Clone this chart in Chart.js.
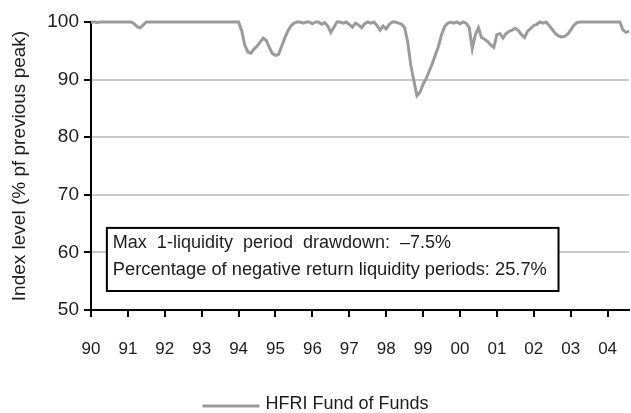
<!DOCTYPE html>
<html>
<head>
<meta charset="utf-8">
<script src="https://cdn.jsdelivr.net/npm/chart.js@4.4.1/dist/chart.umd.min.js"></script>
<style>
  html, body { margin: 0; padding: 0; background: #fff; }
  #wrap { width: 631px; height: 413px; }
</style>
</head>
<body>
<div id="wrap"><canvas id="myChart" width="631" height="413"></canvas></div>
<script>
// Monthly drawdown of the index, % of previous peak, Jan 1990 onwards
const startYear = 1990;
const seriesLabel = "HFRI Fund of Funds";
const drawdown = [
    100, 100, 99.9, 100, 100, 100, 100, 100, 100, 100, 100, 100,          // 1990
    100, 100, 99.7, 99.2, 99.0, 99.5, 100, 100, 100, 100, 100, 100,       // 1991
    100, 100, 100, 100, 100, 100, 100, 100, 100, 100, 100, 100,           // 1992
    100, 100, 100, 100, 100, 100, 100, 100, 100, 100, 100, 100,           // 1993
    100, 98.5, 96.0, 94.8, 94.6, 95.3, 95.8, 96.5, 97.2, 96.8, 95.6, 94.5, // 1994
    94.2, 94.4, 95.8, 97.2, 98.4, 99.3, 99.8, 100, 100, 99.8, 100, 100,   // 1995
    99.7, 100, 100, 99.6, 99.9, 99.3, 98.2, 99.1, 100, 100, 99.8, 100,    // 1996
    99.6, 99.1, 99.8, 99.5, 99.0, 99.7, 100, 99.8, 100, 99.4, 98.6, 99.3, // 1997
    98.8, 99.6, 100, 100, 99.8, 99.6, 99.0, 96.5, 92.5, 89.8, 87.2, 87.8, // 1998
    89.2, 90.2, 91.5, 92.8, 94.3, 95.8, 97.8, 99.2, 99.8, 100, 99.8, 100, // 1999
    99.7, 100, 99.8, 99.0, 95.4, 97.8, 99.0, 97.3, 97.0, 96.6, 96.0, 95.6, // 2000
    97.8, 98.0, 97.2, 98.0, 98.4, 98.6, 98.9, 98.5, 97.8, 97.3, 98.4, 98.9, // 2001
    99.4, 99.6, 100, 99.8, 100, 99.4, 98.7, 98.0, 97.6, 97.4, 97.5, 97.9, // 2002
    98.6, 99.4, 99.9, 100, 100, 100, 100, 100, 100, 100, 100, 100,        // 2003
    100, 100, 100, 100, 100, 98.6, 98.2, 98.4                             // 2004
];
const yTicks = [50, 60, 70, 80, 90, 100];
const boxLines = [
    "Max  1-liquidity  period  drawdown:  \u20137.5%",
    "Percentage of negative return liquidity periods: 25.7%"
];

const FONT = "'Liberation Sans', Arial, sans-serif";
const INK = "#1c1c1c";
const LINE_GREY = "#9b9b9b";

// Text box and legend drawn on top of the plot
const overlayPlugin = {
    id: "overlay",
    afterDraw(chart) {
        const c = chart.ctx;
        const x = chart.scales.x;
        const y = chart.scales.y;
        const left = x.getPixelForValue(1990.43);
        const right = x.getPixelForValue(2002.67);
        const top = y.getPixelForValue(64.25);
        const bottom = y.getPixelForValue(53.3);

        c.save();
        c.fillStyle = "#fff";
        c.fillRect(left, top, right - left, bottom - top);
        c.strokeStyle = "#000";
        c.lineWidth = 2;
        c.strokeRect(left, top, right - left, bottom - top);

        c.fillStyle = INK;
        c.font = "18px " + FONT;
        c.textBaseline = "middle";
        c.textAlign = "left";
        c.fillText(boxLines[0], left + 6, top + 15);
        c.font = "18.3px " + FONT;
        c.fillText(boxLines[1], left + 6, top + 42);

        // legend
        const ds = chart.data.datasets[0];
        c.font = "18px " + FONT;
        const tw = c.measureText(ds.label).width;
        const sample = 57, gap = 6;
        const lx = (chart.width - (sample + gap + tw)) / 2;
        const ly = 404;
        c.strokeStyle = ds.borderColor;
        c.lineWidth = ds.borderWidth;
        c.beginPath();
        c.moveTo(lx, ly + 2);
        c.lineTo(lx + sample, ly + 2);
        c.stroke();
        c.fillText(ds.label, lx + sample + gap, ly);
        c.restore();
    }
};

function initChart() {
    const ctx = document.getElementById("myChart");
    const points = drawdown.map((v, i) => ({ x: startYear + i / 12, y: v }));

    return new Chart(ctx, {
        type: "line",
        data: {
            datasets: [{
                label: seriesLabel,
                data: points,
                borderColor: LINE_GREY,
                backgroundColor: LINE_GREY,
                borderWidth: 3,
                pointRadius: 0,
                tension: 0,
                clip: 4
            }]
        },
        options: {
            responsive: false,
            animation: false,
            layout: { padding: { top: 22, right: 2, left: 0, bottom: 0 } },
            plugins: {
                legend: { display: false },
                tooltip: { enabled: false }
            },
            scales: {
                x: {
                    type: "linear",
                    min: startYear,
                    max: 2004.58,
                    afterFit(scale) {
                        scale.height = 103;
                        scale.paddingLeft = 0;
                        scale.paddingRight = 0;
                    },
                    grid: {
                        drawOnChartArea: false,
                        tickColor: "#000",
                        tickLength: 7,
                        lineWidth: 2
                    },
                    border: { display: true, color: "#000", width: 2 },
                    ticks: {
                        stepSize: 1,
                        includeBounds: false,
                        autoSkip: false,
                        maxRotation: 0,
                        padding: 22,
                        color: INK,
                        font: { family: FONT, size: 17 },
                        callback: (v) => String(v % 100).padStart(2, "0")
                    }
                },
                y: {
                    min: 50,
                    max: 100,
                    afterFit(scale) { scale.width = 91; },
                    afterBuildTicks(scale) {
                        scale.ticks = yTicks.map((v) => ({ value: v }));
                    },
                    grid: {
                        color: (c) => (c.tick && c.tick.value > 50 && c.tick.value < 100) ? "#c9c9c9" : "rgba(0,0,0,0)",
                        tickColor: "#000",
                        tickLength: 7,
                        lineWidth: 2
                    },
                    border: { display: true, color: "#000", width: 2 },
                    ticks: {
                        padding: 5,
                        color: INK,
                        font: { family: FONT, size: 19 }
                    },
                    title: {
                        display: true,
                        text: "Index level (% pf previous peak)",
                        color: INK,
                        font: { family: FONT, size: 19 },
                        padding: { top: 8, bottom: 0 }
                    }
                }
            }
        },
        plugins: [overlayPlugin]
    });
}

initChart();
</script>
</body>
</html>
